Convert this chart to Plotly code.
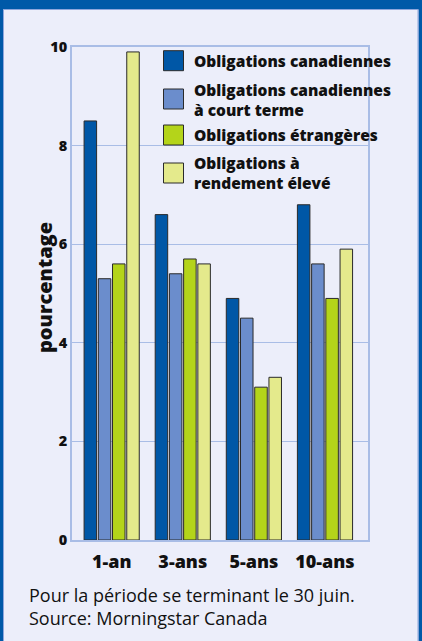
import plotly.graph_objects as go

categories = ["1-an", "3-ans", "5-ans", "10-ans"]
series_names = [
    "Obligations canadiennes",
    "Obligations canadiennes à court terme",
    "Obligations étrangères",
    "Obligations à rendement élevé",
]
legend_lines = [
    ["Obligations canadiennes"],
    ["Obligations canadiennes", "à court terme"],
    ["Obligations étrangères"],
    ["Obligations à", "rendement élevé"],
]
canadiennes = [8.5, 6.6, 4.9, 6.8]
court_terme = [5.3, 5.4, 4.5, 5.6]
etrangeres = [5.6, 5.7, 3.1, 4.9]
rendement_eleve = [9.9, 5.6, 3.3, 5.9]
y_ticks = [0, 2, 4, 6, 8, 10]
y_title = "pourcentage"
footer = ["Pour la période se terminant le 30 juin.", "Source: Morningstar Canada"]

colors = ["#0057a6", "#6b8dcc", "#b4d41a", "#e4ea8c"]
BG = "#eceefa"
GRID = "#a9bde6"
BAND = "#0059a8"
BOLD = "Open Sans"
REG = "Open Sans"
HEAVY = 800

W, H = 422, 641
L, R, T, B = 72, 54, 47, 101
PW, PH = W - L - R, H - T - B


def px(x):
    return (x - L) / PW


def py(y):
    return (H - B - y) / PH


fig = go.Figure()
for name, vals, c in zip(series_names, [canadiennes, court_terme, etrangeres, rendement_eleve], colors):
    fig.add_trace(go.Bar(
        x=list(range(len(categories))), y=vals, name=name,
        marker=dict(color=c, line=dict(color="#2a2a2a", width=1)),
        showlegend=False,
    ))

shapes = []
annotations = []

# legend (custom)
sw_y = [60.7, 99, 135, 173]
text_y = [60.5, 100, 134.5, 173]
for i in range(4):
    shapes.append(dict(type="rect", xref="paper", yref="paper",
                       x0=px(163.5), x1=px(183.5), y0=py(sw_y[i] - 10), y1=py(sw_y[i] + 10),
                       fillcolor=colors[i], line=dict(color="#2a2a2a", width=1), layer="above"))
    annotations.append(dict(text="<br>".join(legend_lines[i]), xref="paper", yref="paper",
                            x=px(192), y=py(text_y[i]), xanchor="left", yanchor="middle",
                            align="left", showarrow=False,
                            font=dict(family=BOLD, size=15.5, color="#111", weight=HEAVY)))

# y-axis title
annotations.append(dict(text=y_title, xref="paper", yref="paper", x=px(44), y=py(288),
                        xanchor="center", yanchor="middle", textangle=-90, showarrow=False,
                        font=dict(family=BOLD, size=20, color="#111", weight=HEAVY)))

# footer
annotations.append(dict(text="<br>".join(footer), xref="paper", yref="paper", x=px(27), y=py(606),
                        xanchor="left", yanchor="middle", align="left", showarrow=False,
                        font=dict(family=REG, size=18, color="#111")))

# frame: top band and side borders
shapes.append(dict(type="rect", xref="paper", yref="paper", x0=px(-10), x1=px(W + 10),
                   y0=py(9), y1=py(-10), fillcolor=BAND, line=dict(width=0), layer="above"))
shapes.append(dict(type="line", xref="paper", yref="paper", x0=px(3), x1=px(419),
                   y0=py(9.5), y1=py(9.5), line=dict(color="#8fa6dc", width=1), layer="above"))
shapes.append(dict(type="rect", xref="paper", yref="paper", x0=px(-10), x1=px(3),
                   y0=py(H + 10), y1=py(9), fillcolor=BAND, line=dict(width=0), layer="above"))
shapes.append(dict(type="line", xref="paper", yref="paper", x0=px(3.5), x1=px(3.5),
                   y0=py(H + 10), y1=py(9.5), line=dict(color="#8fa6dc", width=1), layer="above"))
shapes.append(dict(type="rect", xref="paper", yref="paper", x0=px(418.5), x1=px(W + 10),
                   y0=py(H + 10), y1=py(9), fillcolor=BAND, line=dict(width=0), layer="above"))
shapes.append(dict(type="line", xref="paper", yref="paper", x0=px(418), x1=px(418),
                   y0=py(H + 10), y1=py(9.5), line=dict(color="#8fa6dc", width=1), layer="above"))

fig.update_layout(
    width=W, height=H,
    margin=dict(l=L, r=R, t=T, b=B, pad=0),
    paper_bgcolor=BG, plot_bgcolor=BG,
    barmode="group", bargap=0.2, bargroupgap=0.12,
    shapes=shapes, annotations=annotations,
    font=dict(family=BOLD, color="#111"),
)
fig.update_xaxes(
    range=[-0.558, 3.605], tickmode="array", tickvals=list(range(len(categories))),
    ticktext=categories, showgrid=False, zeroline=False,
    showline=True, linecolor=GRID, linewidth=1.5, mirror=True,
    ticks="outside", ticklen=5, tickcolor="rgba(0,0,0,0)",
    tickfont=dict(family=BOLD, size=18, color="#111", weight=HEAVY),
)
fig.update_yaxes(
    range=[0, 10], tickmode="array", tickvals=y_ticks, ticktext=[str(v) for v in y_ticks],
    showgrid=True, gridcolor=GRID, gridwidth=1.2, zeroline=False,
    showline=True, linecolor=GRID, linewidth=1.5, mirror=True,
    ticks="outside", ticklen=0, tickcolor="rgba(0,0,0,0)",
    tickfont=dict(family=BOLD, size=14.5, color="#111", weight=HEAVY),
)

fig.write_html("out.html")
